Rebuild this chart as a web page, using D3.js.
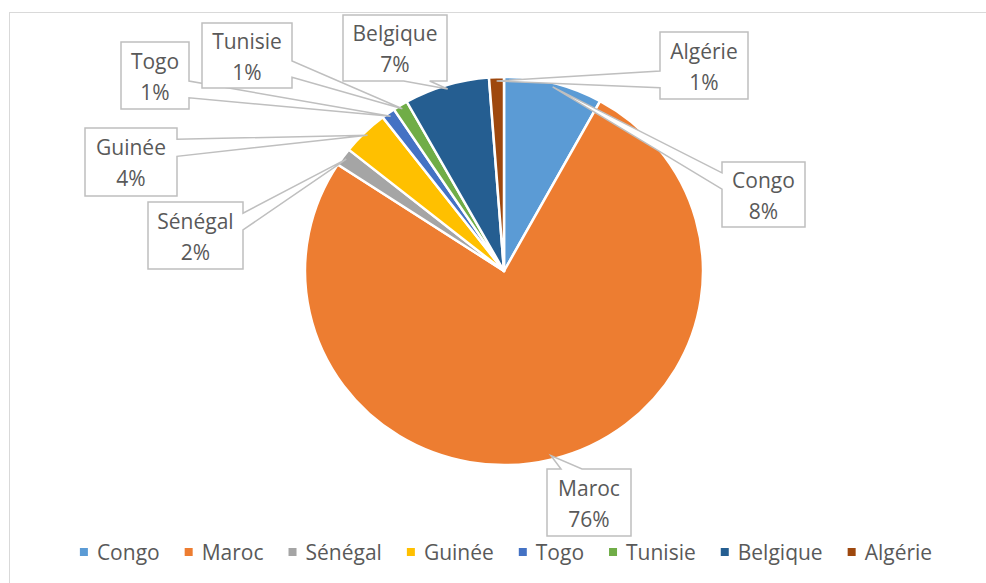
<!DOCTYPE html>
<html lang="fr">
<meta charset="utf-8">
<head>
<script src="https://d3js.org/d3.v7.min.js"></script>
<style>
  body { margin: 0; background: #fff; }
  text { font-family: "Open Sans", sans-serif; fill: #595959; }
</style>
</head>
<body>
<div id="chart"></div>
<script>

// data, slices go clockwise from 12 o'clock
var pays = ["Congo", "Maroc", "Sénégal", "Guinée", "Togo", "Tunisie", "Belgique", "Algérie"];
var valeurs = [8, 76, 1.5, 3.8, 1.1, 1.2, 6.9, 1.2];
var couleurs = ["#5B9BD5", "#ED7D31", "#A5A5A5", "#FFC000", "#4472C4", "#70AD47", "#255E91", "#9E480E"];

// callout boxes, [x, y, w, h]
var boites = {
  "Congo":    [722, 162, 83, 65],
  "Maroc":    [547, 469, 84, 67],
  "Sénégal":  [148, 202, 95, 67],
  "Guinée":   [85, 128, 92, 68],
  "Togo":     [121, 42, 68, 67],
  "Tunisie":  [202, 23, 90, 65],
  "Belgique": [343, 15, 104, 66],
  "Algérie":  [660, 32, 88, 67]
};

var W = 986, H = 583;
var cx = 504, cy = 271, rx = 199, ry = 194;
var fs = "21px";

var svg = d3.select("#chart").append("svg")
  .attr("width", W)
  .attr("height", H);

// chart area border
svg.append("rect")
  .attr("x", 9.5).attr("y", 12.5)
  .attr("width", 1000).attr("height", 700)
  .attr("fill", "none")
  .attr("stroke", "#d9d9d9")
  .attr("stroke-width", 1);

var total = d3.sum(valeurs);
var data = pays.map(function(p, i) { return {pays: p, val: valeurs[i], col: couleurs[i]}; });

var pie = d3.pie().sort(null).value(function(d) { return d.val; });
var arcs = pie(data);
var arc = d3.arc().innerRadius(0).outerRadius(rx);

var g = svg.append("g")
  .attr("transform", "translate(" + cx + "," + cy + ") scale(1," + (ry / rx) + ")");

g.selectAll("path")
  .data(arcs)
  .enter()
  .append("path")
    .attr("d", arc)
    .attr("fill", function(d) { return d.data.col; })
    .attr("stroke", "#fff")
    .attr("stroke-width", 2.5)
    .attr("stroke-linejoin", "round");

// rectangle callout with a wedge pointing at (tx, ty), like excel's
function bulle(b, tx, ty) {
  var x = b[0], y = b[1], w = b[2], h = b[3];
  var mx = x + w / 2, my = y + h / 2;
  var dxn = (tx - mx) / w, dyn = (ty - my) / h;
  var p = [];
  if (Math.abs(dxn) > Math.abs(dyn)) {
    var y1 = y + h * (dyn < 0 ? 2 : 7) / 12, y2 = y + h * (dyn < 0 ? 5 : 10) / 12;
    if (dxn > 0) {
      p = [[x, y], [x + w, y], [x + w, y1], [tx, ty], [x + w, y2], [x + w, y + h], [x, y + h]];
    } else {
      p = [[x, y], [x + w, y], [x + w, y + h], [x, y + h], [x, y2], [tx, ty], [x, y1]];
    }
  } else {
    var x1 = x + w * (dxn < 0 ? 2 : 7) / 12, x2 = x + w * (dxn < 0 ? 5 : 10) / 12;
    if (dyn < 0) {
      p = [[x, y], [x1, y], [tx, ty], [x2, y], [x + w, y], [x + w, y + h], [x, y + h]];
    } else {
      p = [[x, y], [x + w, y], [x + w, y + h], [x2, y + h], [tx, ty], [x1, y + h], [x, y + h]];
    }
  }
  return "M" + p.map(function(q) { return q[0] + "," + q[1]; }).join("L") + "Z";
}

var labels = svg.append("g");
arcs.forEach(function(a) {
  var b = boites[a.data.pays];
  var m = (a.startAngle + a.endAngle) / 2;
  var tx = cx + rx * 0.98 * Math.sin(m);
  var ty = cy - ry * 0.98 * Math.cos(m);
  labels.append("path")
    .attr("d", bulle(b, tx, ty))
    .attr("fill", "#fff")
    .attr("stroke", "#bfbfbf")
    .attr("stroke-width", 1.5);
  var lx = b[0] + b[2] / 2, ly = b[1] + b[3] / 2;
  labels.append("text")
    .attr("x", lx).attr("y", ly - 15)
    .attr("text-anchor", "middle")
    .attr("dominant-baseline", "central")
    .style("font-size", fs)
    .text(a.data.pays);
  labels.append("text")
    .attr("x", lx).attr("y", ly + 16)
    .attr("text-anchor", "middle")
    .attr("dominant-baseline", "central")
    .style("font-size", fs)
    .text(Math.round(a.data.val / total * 100) + "%");
});

// legend, centred under the pie
var leg = svg.append("g");
var items = leg.selectAll("g").data(data).enter().append("g");
items.append("rect")
  .attr("width", 8).attr("height", 8)
  .attr("y", -4)
  .attr("fill", function(d) { return d.col; });
items.append("text")
  .attr("x", 17)
  .attr("dominant-baseline", "central")
  .style("font-size", fs)
  .text(function(d) { return d.pays; });

var pos = 0;
items.each(function() {
  var t = d3.select(this).select("text").node().getComputedTextLength();
  d3.select(this).attr("transform", "translate(" + pos + ",0)");
  pos += 17 + t + 25;
});
pos -= 25;
leg.attr("transform", "translate(" + (506 - pos / 2) + ",552)");

</script>
</body>
</html>
